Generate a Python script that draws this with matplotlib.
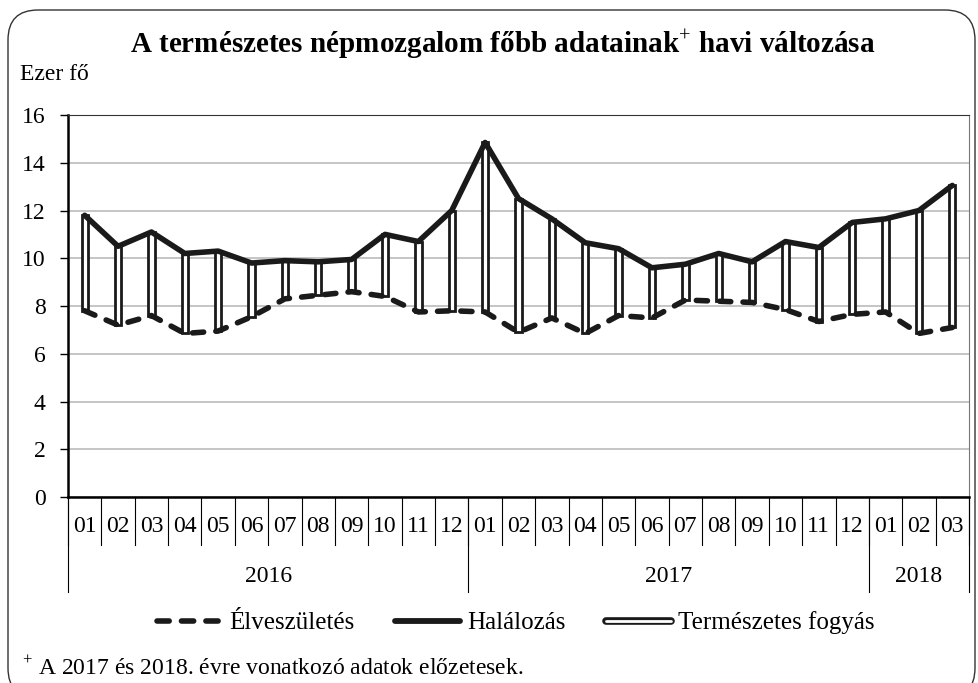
import matplotlib
matplotlib.use("Agg")
import matplotlib.pyplot as plt
import numpy as np
from matplotlib.lines import Line2D
from matplotlib.patches import FancyBboxPatch
import matplotlib.patheffects as pe

plt.rcParams['font.family'] = ['Liberation Serif', 'DejaVu Serif']
plt.rcParams['mathtext.fontset'] = 'custom'
plt.rcParams['mathtext.rm'] = 'Liberation Serif'

# data (ezer fő), 2016-01 .. 2018-03
months = ['01', '02', '03', '04', '05', '06', '07', '08', '09', '10', '11', '12',
          '01', '02', '03', '04', '05', '06', '07', '08', '09', '10', '11', '12',
          '01', '02', '03']
years = ['2016', '2017', '2018']
year_len = [12, 12, 3]
births = [7.8, 7.2, 7.6, 6.85, 6.95, 7.55, 8.3, 8.45, 8.6, 8.4, 7.75, 7.8,
          7.75, 6.9, 7.5, 6.85, 7.6, 7.5, 8.25, 8.2, 8.15, 7.85, 7.35, 7.65,
          7.75, 6.85, 7.1]
deaths = [11.8, 10.5, 11.1, 10.2, 10.3, 9.8, 9.9, 9.85, 9.95, 11.0, 10.7, 12.0,
          14.85, 12.5, 11.65, 10.65, 10.4, 9.6, 9.75, 10.2, 9.85, 10.7, 10.45, 11.5,
          11.65, 12.0, 13.05]

x = np.arange(len(months))
births = np.array(births)
deaths = np.array(deaths)

fig = plt.figure(figsize=(9.79, 6.83), dpi=100)
ax = fig.add_axes([68/979, 1-497/683, 901/979, 382/683])

# rounded frame around the whole chart
frame = FancyBboxPatch((0.08, -0.15), 9.67, 6.88, boxstyle="round,pad=0,rounding_size=0.3",
                       transform=fig.dpi_scale_trans, fill=False, ec='#333333', lw=1.0)
fig.patches.append(frame)

# natural decrease: white bars between births and deaths
ax.bar(x, deaths - births, bottom=births, width=0.19, color='white',
       edgecolor='#1a1a1a', linewidth=2.0, zorder=3)
ax.plot(x, deaths, color='#1a1a1a', lw=4, solid_joinstyle='round',
        solid_capstyle='round', zorder=4)
ax.plot(x, births, color='#1a1a1a', lw=4, linestyle=(0, (2.0, 2.2)),
        dash_capstyle='round', zorder=4)

ax.set_xlim(-0.5, len(months) - 0.5)
ax.set_ylim(0, 16)
ax.set_yticks(range(0, 17, 2))
ax.yaxis.grid(True, color='#c0c0c0', lw=1.3)
ax.set_axisbelow(True)
ax.set_xticks([])
ax.tick_params(axis='y', labelsize=17, length=6, width=1, pad=10)
for s in ['left', 'bottom']:
    ax.spines[s].set_linewidth(1.8)
ax.spines['top'].set_color('#333333')
ax.spines['right'].set_color('#777777')

# grouped category axis
tr = ax.get_xaxis_transform()
for i, m in enumerate(months):
    ax.text(i, -0.078, m, transform=tr, ha='center', va='center', fontsize=17)
for b in np.arange(-0.5, len(months), 1):
    ax.plot([b, b], [0, -0.126], transform=tr, color='black', lw=0.8, clip_on=False)
start = 0
for yr, n in zip(years, year_len):
    ax.plot([start - 0.5, start - 0.5], [0, -0.249], transform=tr, color='black',
            lw=0.8, clip_on=False)
    ax.text(start + n/2 - 0.5, -0.209, yr, transform=tr, ha='center', va='center',
            fontsize=17)
    start += n
ax.plot([start - 0.5, start - 0.5], [0, -0.249], transform=tr, color='black',
        lw=0.8, clip_on=False)

fig.text(503/979, 1-45/683, 'A természetes népmozgalom főbb adatainak$^{+}$ havi változása',
         ha='center', va='center', fontsize=21, fontweight='bold')
fig.text(20/979, 1-75/683, 'Ezer fő', ha='left', va='center', fontsize=17)
fig.text(22/979, 1-668/683, '$^{+}$ A 2017 és 2018. évre vonatkozó adatok előzetesek.',
         ha='left', va='center', fontsize=17)

handles = [
    Line2D([], [], color='#1a1a1a', lw=4, linestyle=(0, (2.2, 2.2)), dash_capstyle='round'),
    Line2D([], [], color='#1a1a1a', lw=4.2, solid_capstyle='round'),
    Line2D([], [], color='#1a1a1a', lw=4.5, solid_capstyle='round',
           path_effects=[pe.Stroke(linewidth=5.5, foreground='#1a1a1a'),
                         pe.Stroke(linewidth=2.0, foreground='white')]),
]
fig.legend(handles, ['Élveszületés', 'Halálozás', 'Természetes fogyás'],
           loc='center', bbox_to_anchor=(516/979, 1-623/683), ncol=3, frameon=False,
           fontsize=18, handlelength=2.6, handletextpad=0.3, columnspacing=1.6)

fig.savefig('out.png', dpi=100)
